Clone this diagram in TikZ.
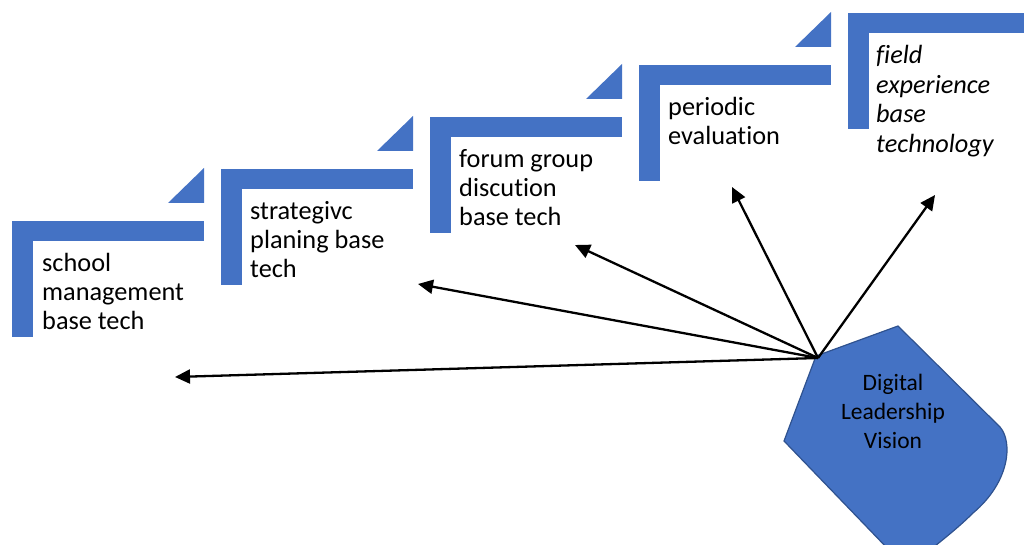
\documentclass[tikz,border=0pt]{standalone}
\usepackage{fontspec}
\setmainfont{Carlito}[Ligatures=NoCommon]
\usetikzlibrary{arrows.meta}
\definecolor{stepblue}{HTML}{4472C4}
\definecolor{hubedge}{HTML}{2F528F}
\tikzset{
  stepfill/.style={fill=stepblue, draw=none},
  steptext/.style={anchor=north west, inner sep=0pt, align=left, text=black,
    font=\fontsize{26.3}{29}\selectfont},
  hubtext/.style={anchor=north, inner sep=0pt, align=center, text=black,
    font=\fontsize{23.5}{29}\selectfont},
  hubshape/.style={fill=stepblue, draw=hubedge, line width=1.2pt},
  conn/.style={draw=black, line width=2.3pt, -{Triangle[length=15pt,width=14pt]}}
}
\begin{document}
\begin{tikzpicture}[x=1pt,y=-1pt]
\useasboundingbox (0,0) rectangle (1024,545);
\clip (0,0) rectangle (1024,545);
% steps
\foreach \i in {0,...,4}{
  \pgfmathsetmacro{\L}{12+209*\i}
  \pgfmathsetmacro{\T}{221-52*\i}
  \fill[stepfill] (\L,\T) rectangle ({\L+21},{\T+116});
  \fill[stepfill] (\L,\T) rectangle ({\L+192},{\T+20});
  \fill[stepfill] ({\L+156},{\T-18}) -- ({\L+192},{\T-18}) -- ({\L+192},{\T-53}) -- cycle;
}
\node[steptext] (s1) at (42,250.7) {\strut school\\management\\base tech};
\node[steptext] (s2) at (250,198.7) {\strut strategivc\\planing base\\tech};
\node[steptext] (s3) at (459,146.7) {\strut forum group\\discution\\base tech};
\node[steptext] (s4) at (668,94.7) {\strut periodic\\evaluation};
\node[steptext, font=\fontsize{26.3}{29.5}\selectfont\itshape] (s5) at (876,42.7) {\strut field\\experience\\base\\technology};
% hub
\path[hubshape] (816,356) -- (898,326) -- (1000,427)
  .. controls (1013,442) and (1010,482) .. (973,513)
  .. controls (960,526) and (945,538) .. (930,550)
  -- (889,550) -- (784,441) -- cycle;
\node[hubtext] (hub) at (893,369.7) {\strut Digital\\Leadership\\Vision};
\coordinate (src) at (818,358);
\coordinate (e1) at (175,377);
\coordinate (e2) at (418,284);
\coordinate (e3) at (575,245);
\coordinate (e4) at (732,187);
\coordinate (e5) at (935,195);
\foreach \e in {e1,e2,e3,e4,e5}{
  \draw[conn] (src) -- (\e);
}
\end{tikzpicture}
\end{document}
